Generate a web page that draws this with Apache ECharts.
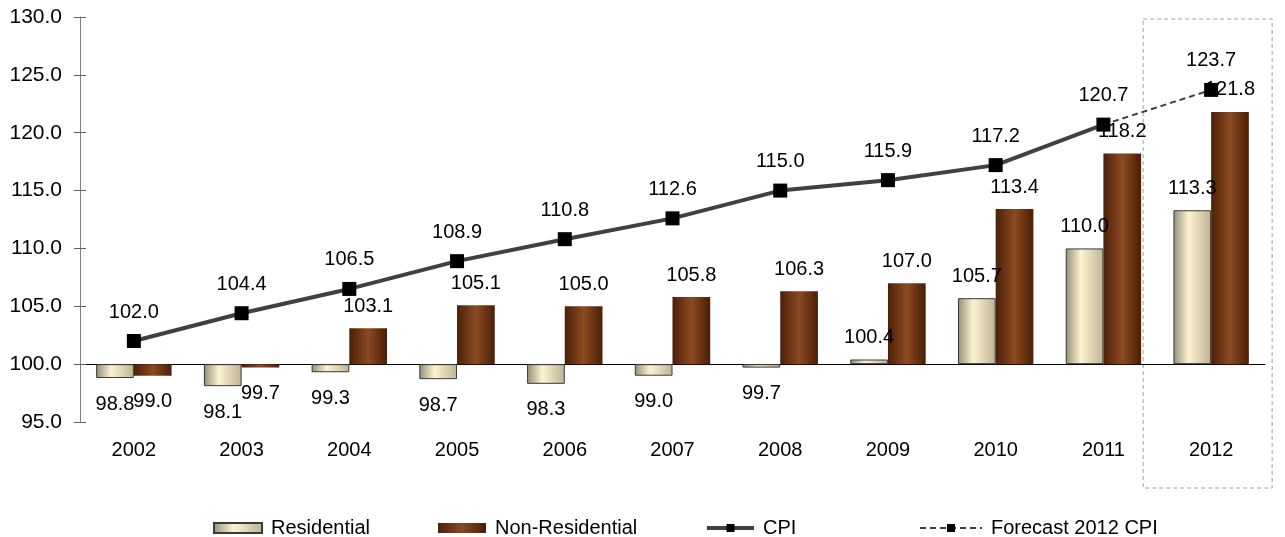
<!DOCTYPE html>
<html>
<head>
<meta charset="utf-8">
<script src="https://cdn.jsdelivr.net/npm/echarts@6/dist/echarts.min.js"></script>
<style>
  html, body { margin: 0; padding: 0; background: #fff; }
  #main { width: 1285px; height: 537px; }
</style>
</head>
<body>
<div id="main"></div>
<script>
var years = ['2002', '2003', '2004', '2005', '2006', '2007', '2008', '2009', '2010', '2011', '2012'];
var residential = [98.8, 98.1, 99.3, 98.7, 98.3, 99.0, 99.7, 100.4, 105.7, 110.0, 113.3];
var nonResidential = [99.0, 99.7, 103.1, 105.1, 105.0, 105.8, 106.3, 107.0, 113.4, 118.2, 121.8];
var cpi = [102.0, 104.4, 106.5, 108.9, 110.8, 112.6, 115.0, 115.9, 117.2, 120.7, null];
var forecastCpi = [null, null, null, null, null, null, null, null, null, 120.7, 123.7];

var BASE = 100;
var font = 'Liberation Sans, Arial, sans-serif';
var fs = 20;

var chart = echarts.init(document.getElementById('main'));

var resColor = new echarts.graphic.LinearGradient(0, 0, 1, 0, [
    { offset: 0, color: '#948e78' },
    { offset: 0.4, color: '#fdf3d0' },
    { offset: 1, color: '#bdb294' }
]);
var nonResColor = new echarts.graphic.LinearGradient(0, 0, 1, 0, [
    { offset: 0, color: '#4a2008' },
    { offset: 0.5, color: '#8c4a22' },
    { offset: 1, color: '#4a1e06' }
]);

function barData(values) {
    return values.map(function (v) {
        return {
            value: v,
            label: { position: v < BASE ? 'bottom' : 'top', distance: v < BASE ? 16 : 12 }
        };
    });
}

var gridTop = 17, gridHeight = 405;
var baseOffset = -gridHeight * 5 / 35;

function legendAt(name, left, w, extra) {
    var l = {
        data: [name],
        left: left,
        top: 513,
        itemWidth: w,
        itemHeight: 10,
        itemGap: 0,
        textStyle: { fontFamily: font, fontSize: 20, color: '#000', padding: [0, 0, 0, 4] }
    };
    return Object.assign(l, extra || {});
}

chart.setOption({
    animation: false,
    textStyle: { fontFamily: font },
    grid: { left: 80, right: 20, top: gridTop, height: gridHeight },
    legend: [
        legendAt('Residential', 208, 48, { icon: 'rect' }),
        legendAt('Non-Residential', 433, 48, { icon: 'rect' }),
        legendAt('CPI', 700, 47, { lineStyle: { width: 4 } }),
        legendAt('Forecast 2012 CPI', 914, 62, { lineStyle: { width: 2 } })
    ],
    xAxis: [
        {
            type: 'category',
            position: 'bottom',
            data: years,
            axisLine: { show: false },
            axisTick: { show: false },
            axisLabel: { fontSize: fs, color: '#000', margin: 18, fontFamily: font }
        },
        {
            type: 'category',
            position: 'bottom',
            data: years,
            offset: baseOffset,
            axisLine: { lineStyle: { color: '#000', width: 1 } },
            axisTick: { length: 6, lineStyle: { color: '#000' } },
            axisLabel: { show: false }
        },
        {
            type: 'category',
            position: 'bottom',
            data: years,
            offset: baseOffset,
            axisLine: { show: false },
            axisTick: { inside: true, length: 6, lineStyle: { color: '#000' } },
            axisLabel: { show: false }
        }
    ],
    yAxis: [
        {
            type: 'value',
            position: 'left',
            min: 95,
            max: 130,
            interval: 5,
            startValue: BASE,
            splitLine: { show: false },
            axisLine: { show: true, lineStyle: { color: '#808080', width: 1 } },
            axisTick: { show: true, length: 6, lineStyle: { color: '#606060' } },
            axisLabel: {
                fontSize: 21, color: '#000', margin: 18, fontFamily: font,
                formatter: function (v) { return v.toFixed(1); }
            }
        },
        {
            type: 'value',
            position: 'left',
            min: 95,
            max: 130,
            interval: 5,
            splitLine: { show: false },
            axisLine: { show: false },
            axisTick: { show: true, inside: true, length: 6, lineStyle: { color: '#606060' } },
            axisLabel: { show: false }
        }
    ],
    series: [
        {
            name: 'Residential',
            type: 'bar',
            data: barData(residential),
            barWidth: '35%',
            barGap: '0%',
            itemStyle: { color: resColor, borderColor: '#3a3a3a', borderWidth: 1 },
            label: {
                show: true, fontSize: fs, color: '#000', fontFamily: font,
                formatter: function (p) { return p.value.toFixed(1); }
            }
        },
        {
            name: 'Non-Residential',
            type: 'bar',
            data: barData(nonResidential),
            barWidth: '35%',
            barGap: '0%',
            itemStyle: { color: nonResColor },
            label: {
                show: true, fontSize: fs, color: '#000', fontFamily: font,
                formatter: function (p) { return p.value.toFixed(1); }
            }
        },
        {
            name: 'CPI',
            type: 'line',
            data: cpi,
            symbol: 'rect',
            symbolSize: 14,
            z: 5,
            lineStyle: { color: '#404040', width: 4 },
            itemStyle: { color: '#000' },
            label: {
                show: true, position: 'top', distance: 12, fontSize: fs, color: '#000', fontFamily: font,
                formatter: function (p) { return p.value.toFixed(1); }
            }
        },
        {
            name: 'Forecast 2012 CPI',
            type: 'line',
            data: forecastCpi.map(function (v, i) {
                if (v === null) return null;
                if (i < forecastCpi.length - 1) return { value: v, symbol: 'none', label: { show: false } };
                return v;
            }),
            symbol: 'rect',
            symbolSize: 14,
            z: 4,
            lineStyle: { color: '#404040', width: 2, type: [6, 4] },
            itemStyle: { color: '#000' },
            label: {
                show: true, position: 'top', distance: 12, fontSize: fs, color: '#000', fontFamily: font,
                formatter: function (p) { return p.value.toFixed(1); }
            }
        }
    ]
});

var cx = chart.convertToPixel({ xAxisIndex: 0 }, '2012');
chart.setOption({
    graphic: [{
        type: 'rect',
        shape: { x: cx - 68, y: 19, width: 129, height: 469 },
        style: { fill: 'none', stroke: '#a0a0a0', lineWidth: 1, lineDash: [4, 3] },
        silent: true
    }]
});

window.addEventListener('resize', function () {
    chart.resize();
});
</script>
</body>
</html>
